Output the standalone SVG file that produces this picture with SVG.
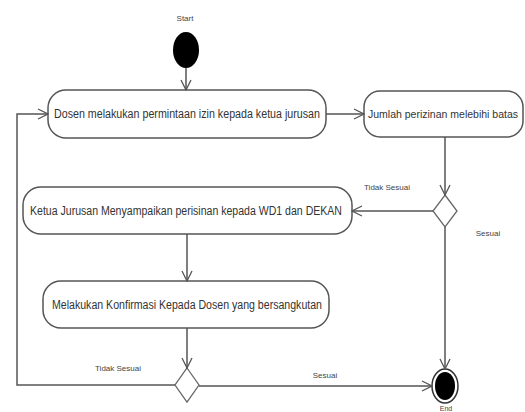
<svg xmlns="http://www.w3.org/2000/svg" width="525" height="412" viewBox="0 0 525 412">
<style>
.act{fill:#fff;stroke:#555;stroke-width:1.5}
.t{font-family:"Liberation Sans",Arial,sans-serif;font-size:12px;fill:#333;text-anchor:middle}
.s{font-family:"Liberation Sans",Arial,sans-serif;font-size:8px;fill:#444;text-anchor:middle}
.c{fill:none;stroke:#555;stroke-width:1.5}
.dec{fill:#fff;stroke:#666;stroke-width:1.3}
</style>
<defs>
<marker id="arr" viewBox="0 0 12 12" refX="11" refY="6" markerWidth="12" markerHeight="12" markerUnits="userSpaceOnUse" orient="auto">
<path d="M1,1 L11,6 L1,11" fill="none" stroke="#555" stroke-width="1.3"/>
</marker>
</defs>
<rect width="525" height="412" fill="#fff"/>
<g id="start">
<text class="s" x="185" y="21">Start</text>
<ellipse cx="186" cy="50" rx="13" ry="18" fill="#000"/>
</g>
<g id="act1">
<rect class="act" x="48" y="90" width="278" height="48" rx="18" ry="18"/>
<text class="t" x="187" y="118" textLength="266" lengthAdjust="spacingAndGlyphs">Dosen melakukan permintaan izin kepada ketua jurusan</text>
</g>
<g id="act2">
<rect class="act" x="364" y="91" width="159" height="46" rx="16" ry="16"/>
<text class="t" x="443" y="118" style="font-size:10.5px">Jumlah perizinan melebihi batas</text>
</g>
<g id="dec1">
<polygon class="dec" points="445,195 457,211 445,227 433,211"/>
</g>
<g id="act3">
<rect class="act" x="23" y="187" width="329" height="47" rx="18" ry="18"/>
<text class="t" x="186" y="215" textLength="312" lengthAdjust="spacingAndGlyphs">Ketua Jurusan Menyampaikan perisinan kepada WD1 dan DEKAN</text>
</g>
<g id="act4">
<rect class="act" x="43" y="281" width="286" height="47" rx="18" ry="18"/>
<text class="t" x="187" y="309" textLength="270" lengthAdjust="spacingAndGlyphs">Melakukan Konfirmasi Kepada Dosen yang bersangkutan</text>
</g>
<g id="dec2">
<polygon class="dec" points="187,368 199,385 187,402 175,385"/>
</g>
<g id="end">
<ellipse cx="445" cy="386" rx="13" ry="17" fill="#fff" stroke="#333" stroke-width="1.5"/>
<ellipse cx="445" cy="386" rx="10" ry="14" fill="#000"/>
<text class="s" x="446" y="411" style="font-size:7px">End</text>
</g>
<g id="connectors">
<line class="c" x1="186" y1="68" x2="186" y2="90" marker-end="url(#arr)"/>
<line class="c" x1="326" y1="114" x2="364" y2="114" marker-end="url(#arr)"/>
<line class="c" x1="445" y1="137" x2="445" y2="195" marker-end="url(#arr)"/>
<line class="c" x1="433" y1="211" x2="352" y2="211" marker-end="url(#arr)"/>
<line class="c" x1="445" y1="227" x2="445" y2="369" marker-end="url(#arr)"/>
<line class="c" x1="187" y1="234" x2="187" y2="281" marker-end="url(#arr)"/>
<line class="c" x1="187" y1="328" x2="187" y2="368" marker-end="url(#arr)"/>
<polyline class="c" points="175,385 17,385 17,114 48,114" marker-end="url(#arr)"/>
<line class="c" x1="199" y1="386" x2="432" y2="386" marker-end="url(#arr)"/>
<text class="s" x="387" y="190">Tidak Sesuai</text>
<text class="s" x="488" y="236">Sesuai</text>
<text class="s" x="118" y="371">Tidak Sesuai</text>
<text class="s" x="325" y="378">Sesuai</text>
</g>
</svg>
